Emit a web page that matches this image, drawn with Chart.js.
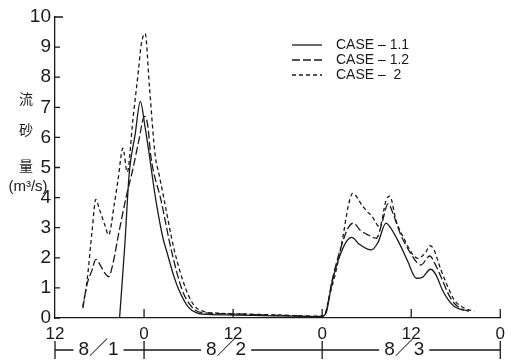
<!DOCTYPE html>
<html>
<head>
<meta charset="utf-8">
<script src="https://cdn.jsdelivr.net/npm/chart.js@4"></script>
<style>
  html, body { margin: 0; padding: 0; background: #fff; }
  #wrap { width: 511px; height: 361px; position: relative; }
</style>
</head>
<body>
<div id="wrap"><canvas id="c" width="511" height="361"></canvas></div>
<script>
// hours counted from 8/2 0:00
const case11Hours = [-3.3, -2.6, -2.0, -1.2, -0.5, 0.1, 0.6, 1.6, 2.6, 3.0, 4.0, 4.7, 6.0, 7.0, 8.5, 12, 16, 20, 23.8,
  24.5, 25.3, 26.0, 26.6, 27.3, 28.0, 29.0, 30.6, 31.5, 32.6, 33.2, 34.4, 35.5, 36.7, 37.5, 38.6, 39.3, 40.2, 41.0, 41.8, 43.1];
const case11Values = [0, 2.4, 4.8, 6.1, 7.2, 6.4, 5.6, 3.9, 2.6, 2.26, 1.4, 0.93, 0.35, 0.18, 0.12, 0.1, 0.08, 0.06, 0.04,
  0.15, 1.15, 1.8, 2.2, 2.55, 2.68, 2.45, 2.26, 2.5, 3.15, 3.0, 2.48, 1.9, 1.32, 1.35, 1.62, 1.45, 0.93, 0.6, 0.38, 0.25];

const case12Hours = [-8.25, -7.7, -7.0, -6.5, -6.0, -5.3, -4.77, -4.2, -3.5, -2.4, -1.55, -0.7, 0.05, 0.5, 0.9, 2.3, 3.67, 5.14, 6.5, 7.8, 12, 16, 20, 23.9,
  24.5, 25.3, 26.0, 26.6, 27.4, 28.2, 29.2, 30.3, 31.3, 32.0, 32.9, 33.5, 34.6, 35.8, 37.3, 38.5, 39.2, 40.2, 41.0, 41.8, 42.8, 44.0];
const case12Values = [0.33, 1.1, 1.6, 1.95, 1.8, 1.5, 1.37, 1.8, 2.7, 4.03, 4.9, 5.9, 6.7, 6.4, 5.4, 3.9, 2.26, 0.93, 0.35, 0.18, 0.14, 0.1, 0.08, 0.05,
  0.18, 1.2, 1.9, 2.4, 2.95, 3.15, 2.9, 2.75, 2.65, 3.1, 3.8, 3.5, 2.76, 2.2, 1.76, 2.06, 1.8, 1.26, 0.8, 0.49, 0.3, 0.22];

const case2Hours = [-8.25, -7.7, -7.0, -6.5, -6.0, -5.3, -4.77, -4.0, -3.5, -2.85, -2.26, -1.5, -0.75, -0.39, 0.15, 0.72, 1.5, 2.0, 2.73, 4.07, 5.68, 6.8, 8.0, 10, 14, 18, 23.8,
  24.4, 25.0, 25.9, 26.8, 27.5, 28.1, 29.5, 30.2, 30.6, 31.75, 32.6, 33.1, 34.0, 35.1, 36.1, 36.9, 38.0, 38.5, 39.0, 40.0, 41.0, 41.8, 43.0, 44.5];
const case2Values = [0.38, 1.2, 2.9, 3.94, 3.6, 3.1, 2.76, 3.8, 4.6, 5.64, 4.85, 6.6, 8.24, 9.07, 9.45, 7.7, 5.4, 4.8, 3.9, 2.26, 0.93, 0.4, 0.22, 0.16, 0.13, 0.1, 0.06,
  0.15, 0.75, 1.6, 2.7, 3.7, 4.14, 3.7, 3.5, 3.42, 3.03, 3.9, 4.05, 3.2, 2.6, 2.15, 1.98, 2.2, 2.4, 2.3, 1.6, 1.0, 0.6, 0.35, 0.22];

const seriesNames = ['CASE – 1.1', 'CASE – 1.2', 'CASE –  2'];
const xTicks = [-12, 0, 12, 24, 36, 48];
const dayBounds = [-12, 0, 24, 48];
const dayLabels = ['8／1', '8／2', '8／3'];
const yTitle = ['流', '砂', '量'];
const yUnit = '(m³/s)';

const INK = '#1a1a1a';
const NARROW = "'Liberation Sans Narrow', 'Liberation Sans', sans-serif";
const dashes = [[], [8, 3], [4, 3]];

const pts = (hs, vs) => hs.map((h, i) => ({ x: h, y: vs[i] }));

const overlay = {
    id: 'overlay',
    afterDraw(chart) {
        const ctx = chart.ctx;
        const xs = chart.scales.x, ys = chart.scales.y;
        const area = chart.chartArea;
        ctx.save();
        ctx.strokeStyle = INK;
        ctx.fillStyle = INK;
        ctx.lineWidth = 1.3;

        // inward ticks
        ctx.beginPath();
        for (let v = 0; v <= 10; v++) {
            const y = ys.getPixelForValue(v);
            ctx.moveTo(area.left, y);
            ctx.lineTo(area.left + (v === 10 ? 8 : 5), y);
        }
        for (const h of xTicks.slice(1)) {
            const x = xs.getPixelForValue(h);
            ctx.moveTo(x, area.bottom);
            ctx.lineTo(x, area.bottom - 9);
        }
        ctx.stroke();

        // date bracket row
        const rowY = 350;
        ctx.font = "19px " + NARROW + ", 'Noto Sans CJK JP'";
        ctx.textAlign = 'center';
        ctx.textBaseline = 'middle';
        ctx.beginPath();
        for (const h of dayBounds) {
            const x = xs.getPixelForValue(h);
            ctx.moveTo(x, rowY - 9);
            ctx.lineTo(x, rowY + 9);
        }
        for (let i = 0; i < dayLabels.length; i++) {
            const x0 = xs.getPixelForValue(dayBounds[i]);
            const x1 = xs.getPixelForValue(dayBounds[i + 1]);
            const cx = (x0 + x1) / 2 - (i === 0 ? 1 : 7);
            const w = ctx.measureText(dayLabels[i]).width / 2 + 5;
            ctx.moveTo(x0, rowY);
            ctx.lineTo(cx - w, rowY);
            ctx.moveTo(cx + w, rowY);
            ctx.lineTo(x1, rowY);
            ctx.fillText(dayLabels[i], cx, rowY);
        }
        ctx.stroke();

        // y title
        ctx.font = "14px 'Noto Sans CJK JP', sans-serif";
        const titleVals = [7.3, 6.25, 5.05];
        yTitle.forEach((ch, i) => ctx.fillText(ch, 26, ys.getPixelForValue(titleVals[i])));
        ctx.font = "15px " + NARROW;
        ctx.fillText(yUnit, 28, ys.getPixelForValue(4.35));

        // legend
        ctx.font = "14px " + NARROW;
        ctx.textAlign = 'left';
        seriesNames.forEach((name, i) => {
            const y = 45 + i * 15;
            ctx.setLineDash(dashes[i]);
            ctx.beginPath();
            ctx.moveTo(292, y);
            ctx.lineTo(322, y);
            ctx.stroke();
            ctx.setLineDash([]);
            ctx.fillText(name, 336, y);
        });
        ctx.restore();
    }
};

const makeSet = (label, data, i) => ({
    label,
    data,
    borderColor: INK,
    borderWidth: 1.3,
    borderDash: dashes[i],
    pointRadius: 0,
    fill: false,
    cubicInterpolationMode: 'monotone',
});

new Chart(document.getElementById('c'), {
    type: 'line',
    data: {
        datasets: [
            makeSet(seriesNames[0], pts(case11Hours, case11Values), 0),
            makeSet(seriesNames[1], pts(case12Hours, case12Values), 1),
            makeSet(seriesNames[2], pts(case2Hours, case2Values), 2),
        ],
    },
    options: {
        responsive: false,
        animation: false,
        layout: { padding: { left: 0, top: 17, right: 8, bottom: 0 } },
        plugins: { legend: { display: false }, tooltip: { enabled: false } },
        scales: {
            x: {
                type: 'linear',
                min: -12,
                max: 48,
                afterFit: s => { s.height = 43; },
                afterBuildTicks: s => { s.ticks = xTicks.map(v => ({ value: v })); },
                grid: { drawOnChartArea: false, drawTicks: false },
                border: { display: true, color: INK, width: 1.3 },
                ticks: {
                    padding: 6,
                    color: INK,
                    font: { family: NARROW, size: 17 },
                    maxRotation: 0,
                    callback: v => String(((v % 24) + 24) % 24),
                },
            },
            y: {
                min: 0,
                max: 10,
                afterFit: s => { s.width = 55; },
                grid: { drawOnChartArea: false, drawTicks: false },
                border: { display: true, color: INK, width: 1.3 },
                ticks: {
                    stepSize: 1,
                    padding: 4,
                    color: INK,
                    font: { family: NARROW, size: 19 },
                },
            },
        },
    },
    plugins: [overlay],
});
</script>
</body>
</html>
